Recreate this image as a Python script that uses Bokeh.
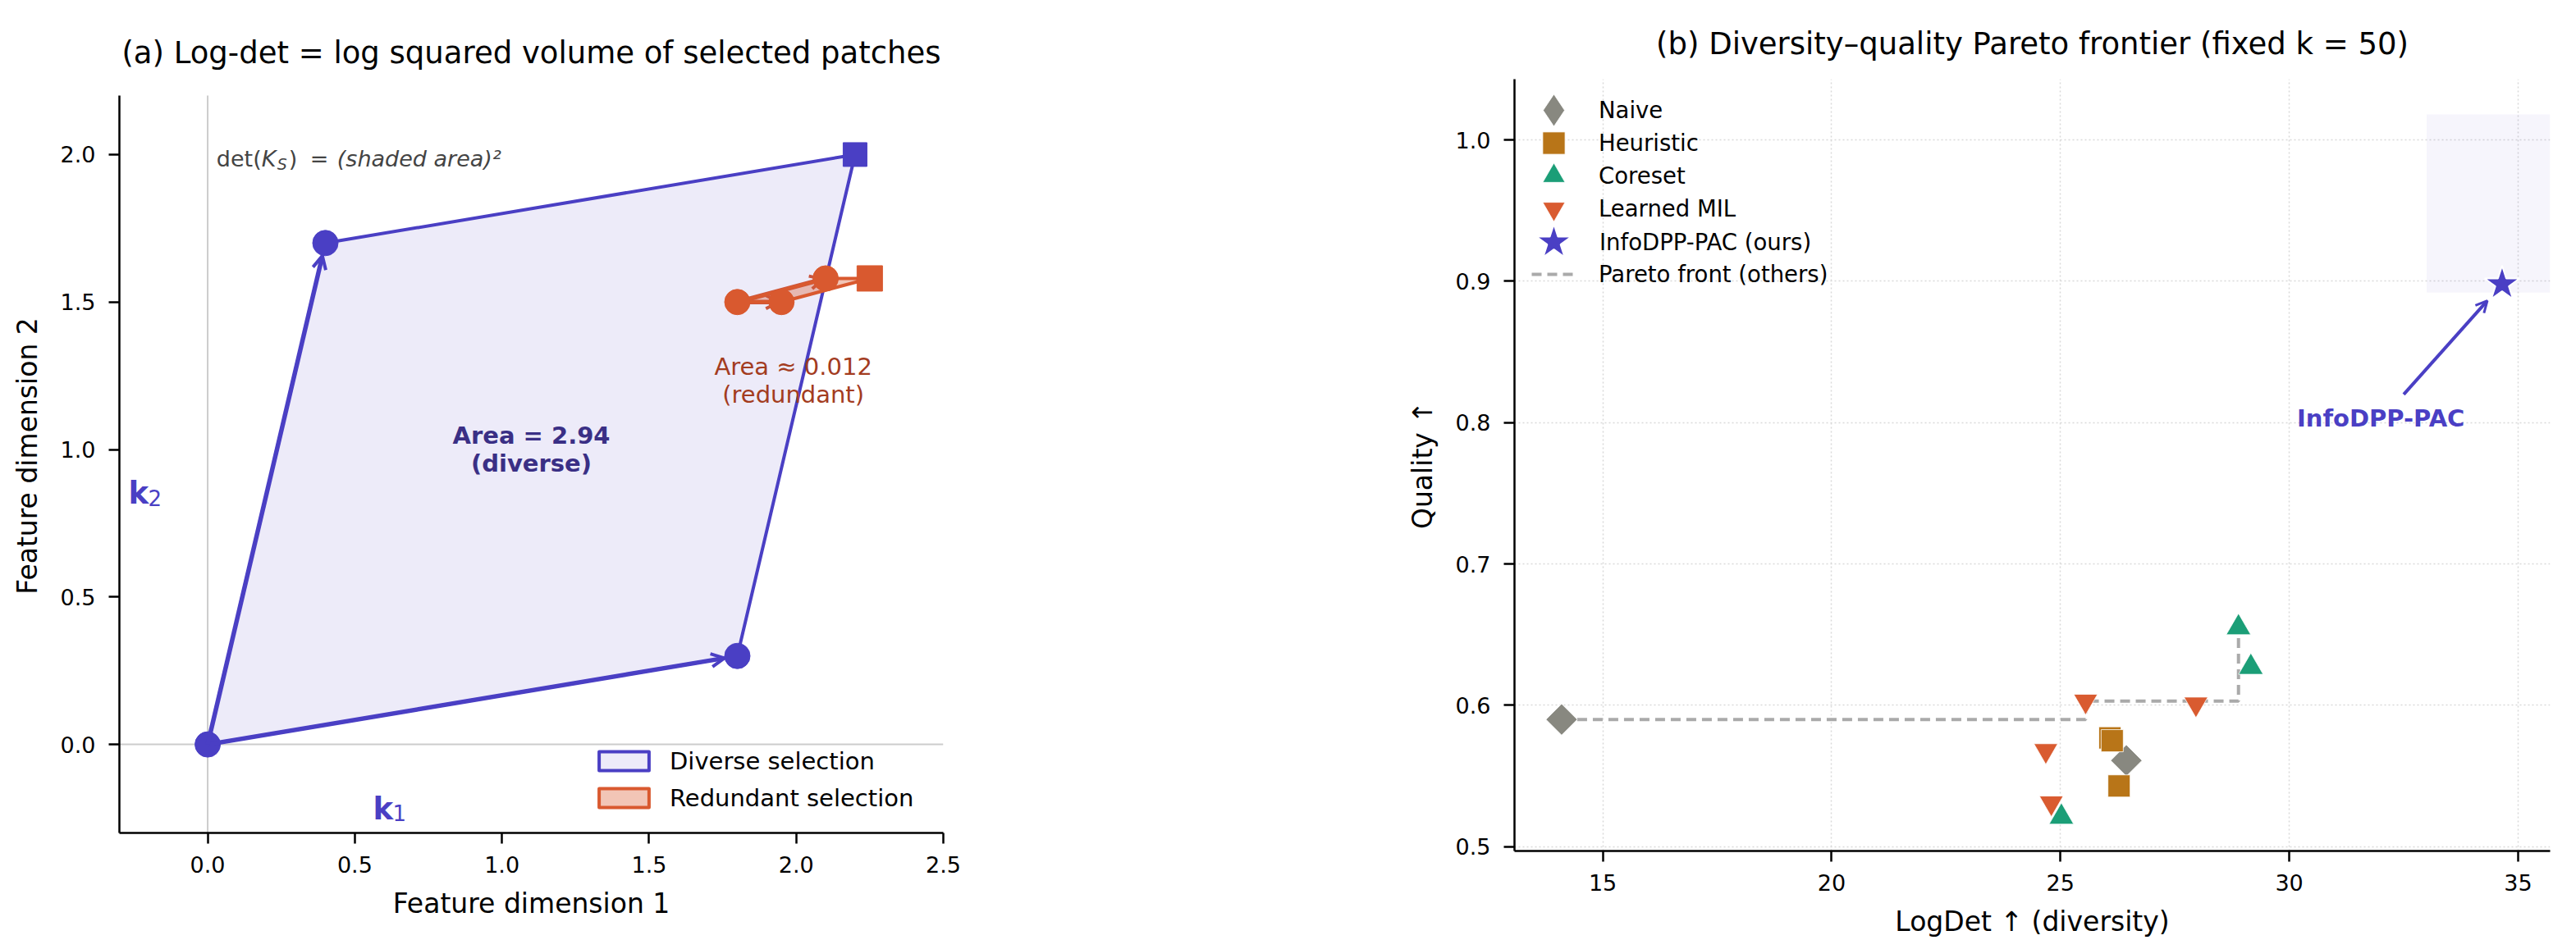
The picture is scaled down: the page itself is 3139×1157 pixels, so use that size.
import numpy as np
from bokeh.plotting import figure
from bokeh.layouts import row
from bokeh.models import (Range1d, FixedTicker, NumeralTickFormatter, Span, Label,
                          Arrow, OpenHead, Legend, LegendItem, ColumnDataSource)
from bokeh.embed import file_html
from bokeh.resources import INLINE

FONT = "DejaVu Sans"
INDIGO = "#4a3fc4"
INDIGO_DARK = "#3a2f85"
ORANGE = "#d9592f"
BRICK = "#a33c1f"
GRAY_TXT = "#444444"

# ---------------- panel (a): kernel vectors of two selections ----------------
k1 = [1.8, 0.3]
k2 = [0.4, 1.7]
red_base = [1.8, 1.5]
red_u = [0.3, 0.08]
red_v = [0.15, 0.0]
diverse_area = abs(k1[0] * k2[1] - k1[1] * k2[0])
redundant_area = abs(red_u[0] * red_v[1] - red_u[1] * red_v[0])

# ---------------- panel (b): LogDet vs quality at k = 50 ----------------
naive_logdet = [14.1, 26.44]
naive_quality = [0.590, 0.561]
heur_logdet = [26.08, 26.13, 26.28]
heur_quality = [0.577, 0.575, 0.543]
core_logdet = [25.02, 28.89, 29.16]
core_quality = [0.521, 0.655, 0.627]
mil_logdet = [24.68, 24.80, 25.55, 27.96]
mil_quality = [0.568, 0.531, 0.603, 0.601]
ours_logdet = [34.65]
ours_quality = [0.898]
target_region = dict(left=33.0, right=35.7, bottom=0.892, top=1.018)

method_names = ["Naive", "Heuristic", "Coreset", "Learned MIL", "InfoDPP-PAC (ours)"]
method_colors = ["#888880", "#b87518", "#1b9e77", "#d95b30", INDIGO]


def style_axes(p, title_standoff):
    for ax in (p.xaxis[0], p.yaxis[0]):
        ax.axis_line_width = 2.5
        ax.axis_line_color = "black"
        ax.major_tick_out = 13
        ax.major_tick_in = 0
        ax.major_tick_line_width = 2.5
        ax.major_tick_line_color = "black"
        ax.minor_tick_out = 0
        ax.minor_tick_in = 0
        ax.major_label_text_font = FONT
        ax.major_label_text_font_size = "27px"
        ax.major_label_text_color = "black"
        ax.axis_label_text_font = FONT
        ax.axis_label_text_font_size = "33px"
        ax.axis_label_text_font_style = "normal"
        ax.axis_label_text_color = "black"
    p.xaxis.major_label_standoff = 15
    p.xaxis.axis_label_standoff = 15
    p.yaxis.major_label_standoff = 16
    p.yaxis.axis_label_standoff = 18
    p.outline_line_color = None
    p.title.text_font = FONT
    p.title.text_font_size = "37px"
    p.title.text_font_style = "normal"
    p.title.text_color = "black"
    p.title.align = "center"
    p.title.standoff = title_standoff


# ======================= panel (a) =======================
AX0, AX1, AY0, AY1 = -0.3, 2.5, -0.3, 2.2
FW_A = 1004
SX, SY = FW_A / (AX1 - AX0), 899 / (AY1 - AY0)
HEAD_ROOM = 20  # px of empty frame above the top of the y axis
FH_A = 899 + HEAD_ROOM

pa = figure(frame_width=FW_A, frame_height=FH_A, min_border_left=145, min_border_right=451,
            min_border_top=96, min_border_bottom=142,
            x_range=Range1d(AX0, AX1), y_range=Range1d(AY0, AY1 + HEAD_ROOM / SY),
            output_backend="svg", toolbar_location=None,
            title="(a) Log-det = log squared volume of selected patches")
style_axes(pa, 22)
pa.grid.visible = False
pa.yaxis.bounds = (AY0, AY1)
pa.xaxis.axis_label = "Feature dimension 1"
pa.yaxis.axis_label = "Feature dimension 2"
pa.xaxis.ticker = FixedTicker(ticks=[0.0, 0.5, 1.0, 1.5, 2.0, 2.5])
pa.yaxis.ticker = FixedTicker(ticks=[0.0, 0.5, 1.0, 1.5, 2.0])
pa.xaxis.formatter = NumeralTickFormatter(format="0.0")
pa.yaxis.formatter = NumeralTickFormatter(format="0.0")

pa.add_layout(Span(location=0, dimension="width", line_color="#cccccc", line_width=2,
                   level="underlay"))
pa.segment(x0=[0], y0=[AY0], x1=[0], y1=[AY1], line_color="#cccccc", line_width=2)

o = np.zeros(2)
a = np.array(k1)
b = np.array(k2)
div_poly = np.array([o, a, a + b, b])
div_r = pa.patch(div_poly[:, 0], div_poly[:, 1], fill_color=INDIGO, fill_alpha=0.1,
                 line_color=INDIGO, line_width=4, line_join="round")

rb = np.array(red_base)
ru = np.array(red_u)
rv = np.array(red_v)
red_poly = np.array([rb, rb + rv, rb + ru + rv, rb + ru])
red_r = pa.patch(red_poly[:, 0], red_poly[:, 1], fill_color=ORANGE, fill_alpha=0.35,
                 line_color=ORANGE, line_width=4, line_join="round")


def shrink_end(p0, p1, px):
    dx, dy = (p1[0] - p0[0]) * SX, (p1[1] - p0[1]) * SY
    f = 1 - px / np.hypot(dx, dy)
    return p0[0] + (p1[0] - p0[0]) * f, p0[1] + (p1[1] - p0[1]) * f


def vec_arrows(starts, ends, color, gap, level):
    xs0, ys0, xs1, ys1 = [], [], [], []
    for s, e in zip(starts, ends):
        ex, ey = shrink_end(s, e, gap)
        xs0.append(s[0]); ys0.append(s[1]); xs1.append(ex); ys1.append(ey)
    src = ColumnDataSource(dict(x0=xs0, y0=ys0, x1=xs1, y1=ys1))
    pa.add_layout(Arrow(x_start="x0", y_start="y0", x_end="x1", y_end="y1", source=src,
                        line_color=color, line_width=5.5, level=level,
                        end=OpenHead(size=16, line_color=color, line_width=4)))


vec_arrows([o, o], [a, b], INDIGO, 16, "annotation")
vec_arrows([rb, rb], [rb + ru, rb + rv], ORANGE, 3, "underlay")

pa.scatter([o[0], a[0], b[0]], [o[1], a[1], b[1]], size=31, color=INDIGO)
pa.scatter([(a + b)[0]], [(a + b)[1]], marker="square", size=29, color=INDIGO)
pa.scatter([rb[0], (rb + rv)[0], (rb + ru)[0]], [rb[1], (rb + rv)[1], (rb + ru)[1]],
           size=31, color=ORANGE)
pa.scatter([(rb + ru + rv)[0]], [(rb + ru + rv)[1]], marker="square", size=31, color=ORANGE)

# det(K_S) = (shaded area)^2 written piece by piece
det_pieces = [("det(", 0, 0, "normal", "27px"), ("K", 55, 0, "italic", "27px"),
              ("S", 74, -6, "italic", "19px"), (")", 88, 0, "normal", "27px"),
              ("=", 114, 0, "normal", "27px"),
              ("(shaded area)\u00b2", 147, 0, "italic", "27px")]
for txt, xo, yo, style, size in det_pieces:
    pa.add_layout(Label(x=0.03, y=1.985, x_offset=xo, y_offset=yo, text=txt,
                        text_font=FONT, text_font_style=style, text_font_size=size,
                        text_color=GRAY_TXT, text_baseline="alphabetic", text_align="left"))

cx, cy = (a + b) / 2
for txt, yo in ((f"Area = {diverse_area:.2f}", 17), ("(diverse)", -17)):
    pa.add_layout(Label(x=cx, y=cy, y_offset=yo, text=txt, text_font=FONT,
                        text_font_style="bold", text_font_size="29px", text_color=INDIGO_DARK,
                        text_align="center", text_baseline="middle"))
for txt, yo in ((f"Area \u2248 {redundant_area:.3f}", 17), ("(redundant)", -17)):
    pa.add_layout(Label(x=1.99, y=1.235, y_offset=yo, text=txt, text_font=FONT,
                        text_font_size="29px", text_color=BRICK,
                        text_align="center", text_baseline="middle"))

for (lx, ly), sub in (((0.562, -0.219), "1"), ((-0.269, 0.85), "2")):
    pa.add_layout(Label(x=lx, y=ly, text="k", text_font=FONT, text_font_style="bold",
                        text_font_size="37px", text_color=INDIGO, text_baseline="alphabetic"))
    pa.add_layout(Label(x=lx, y=ly, x_offset=24, y_offset=-5, text=sub, text_font=FONT,
                        text_font_size="26px", text_color=INDIGO, text_baseline="alphabetic"))

leg_a = Legend(items=[LegendItem(label="Diverse selection", renderers=[div_r]),
                      LegendItem(label="Redundant selection", renderers=[red_r])],
               location=(577, 25), glyph_width=76, glyph_height=29, label_height=35,
               label_standoff=18, spacing=10, padding=0, margin=0,
               border_line_alpha=0, background_fill_alpha=0,
               label_text_font=FONT, label_text_font_size="29px",
               label_text_color="black")
pa.add_layout(leg_a)

# ======================= panel (b) =======================
FH_B = 941
pb = figure(frame_width=1262, frame_height=FH_B, min_border_left=245, min_border_right=32,
            min_border_top=96, min_border_bottom=120,
            x_range=Range1d(13.07, 35.70), y_range=Range1d(0.497, 1.043),
            output_backend="svg", toolbar_location=None,
            title="(b) Diversity\u2013quality Pareto frontier (fixed k = 50)")
style_axes(pb, 43)
pb.xaxis.axis_label = "LogDet \u2191 (diversity)"
pb.yaxis.axis_label = "Quality \u2191"
pb.xaxis.ticker = FixedTicker(ticks=[15, 20, 25, 30, 35])
pb.yaxis.ticker = FixedTicker(ticks=[0.5, 0.6, 0.7, 0.8, 0.9, 1.0])
pb.yaxis.formatter = NumeralTickFormatter(format="0.0")
pb.grid.grid_line_color = "#d9d9d9"
pb.grid.grid_line_width = 1.5
pb.grid.grid_line_dash = "2 3"

pb.quad(left=[target_region["left"]], right=[target_region["right"]],
        bottom=[target_region["bottom"]], top=[target_region["top"]],
        fill_color=INDIGO, fill_alpha=0.05, line_color=None)

# running-best quality over the baselines, ordered by LogDet
others_x = np.array(naive_logdet + heur_logdet + core_logdet + mil_logdet)
others_y = np.array(naive_quality + heur_quality + core_quality + mil_quality)
order = np.argsort(others_x)
front_x, front_y, best = [], [], -np.inf
for i in order:
    if others_y[i] > best:
        best = others_y[i]
        front_x.append(others_x[i])
        front_y.append(others_y[i])
pareto_r = pb.step(front_x, front_y, mode="after", line_color="#aaaaaa", line_width=4,
                   line_dash="12 7")

series = [(naive_logdet, naive_quality, "square", 27, np.pi / 4),
          (heur_logdet, heur_quality, "square", 27, 0),
          (core_logdet, core_quality, "triangle", 30, 0),
          (mil_logdet, mil_quality, "inverted_triangle", 29, 0),
          (ours_logdet, ours_quality, "star", 45, 0)]
rends = []
for (xs, ys, mk, sz, ang), col in zip(series, method_colors):
    lw = 2 if mk == "star" else 0.8
    rends.append(pb.scatter(xs, ys, marker=mk, size=sz, angle=ang, fill_color=col,
                            line_color="white", line_width=lw))

# legend-only swatch for the rotated-square markers (legend swatches are drawn unrotated);
# its single point is NaN so nothing appears inside the plot
naive_swatch = pb.scatter(x=[np.nan], y=[np.nan], marker="diamond",
                          fill_color=method_colors[0], line_color="white", line_width=0.8)

pb.add_layout(Label(x=32.0, y=0.803, text="InfoDPP-PAC", text_font=FONT,
                    text_font_style="bold", text_font_size="29px", text_color=INDIGO,
                    text_align="center", text_baseline="middle"))
arr_start = (32.5, 0.82)
arr_end = (ours_logdet[0] - 0.15 * (ours_logdet[0] - arr_start[0]),
           ours_quality[0] - 0.15 * (ours_quality[0] - arr_start[1]))
pb.add_layout(Arrow(x_start=arr_start[0], y_start=arr_start[1], x_end=arr_end[0],
                    y_end=arr_end[1], line_color=INDIGO, line_width=4,
                    end=OpenHead(size=14, line_color=INDIGO, line_width=3)))


# legend rows: one single-entry legend per row so each swatch gets its own size
SWATCH_X, LABEL_X = 48, 103  # swatch centre / label start, px right of the frame edge


def legend_row(label, renderer, row_center, glyph_w, glyph_h):
    item_h = max(glyph_h, 32)
    y_bottom = FH_B + 96 - (row_center + item_h / 2)
    x_left = SWATCH_X - glyph_w / 2
    pb.add_layout(Legend(items=[LegendItem(label=label, renderers=[renderer])],
                         location=(x_left, y_bottom), glyph_width=glyph_w,
                         glyph_height=glyph_h, label_height=32,
                         label_standoff=int(round(LABEL_X - x_left - glyph_w)),
                         padding=0, margin=0, border_line_alpha=0,
                         background_fill_alpha=0, label_text_font=FONT,
                         label_text_font_size="27.5px", label_text_color="black"))


row_centers = [134, 174, 214, 254, 295, 334]
legend_row(method_names[0], naive_swatch, row_centers[0], 98, 98)
for name, rend, rc in zip(method_names[1:4], rends[1:4], row_centers[1:4]):
    legend_row(name, rend, rc, 68, 68)
legend_row(method_names[4], rends[4], row_centers[4], 112, 112)
legend_row("Pareto front (others)", pareto_r, row_centers[5], 54, 20)

layout = row(pa, pb)
open("out.html", "w").write(file_html(layout, INLINE))
